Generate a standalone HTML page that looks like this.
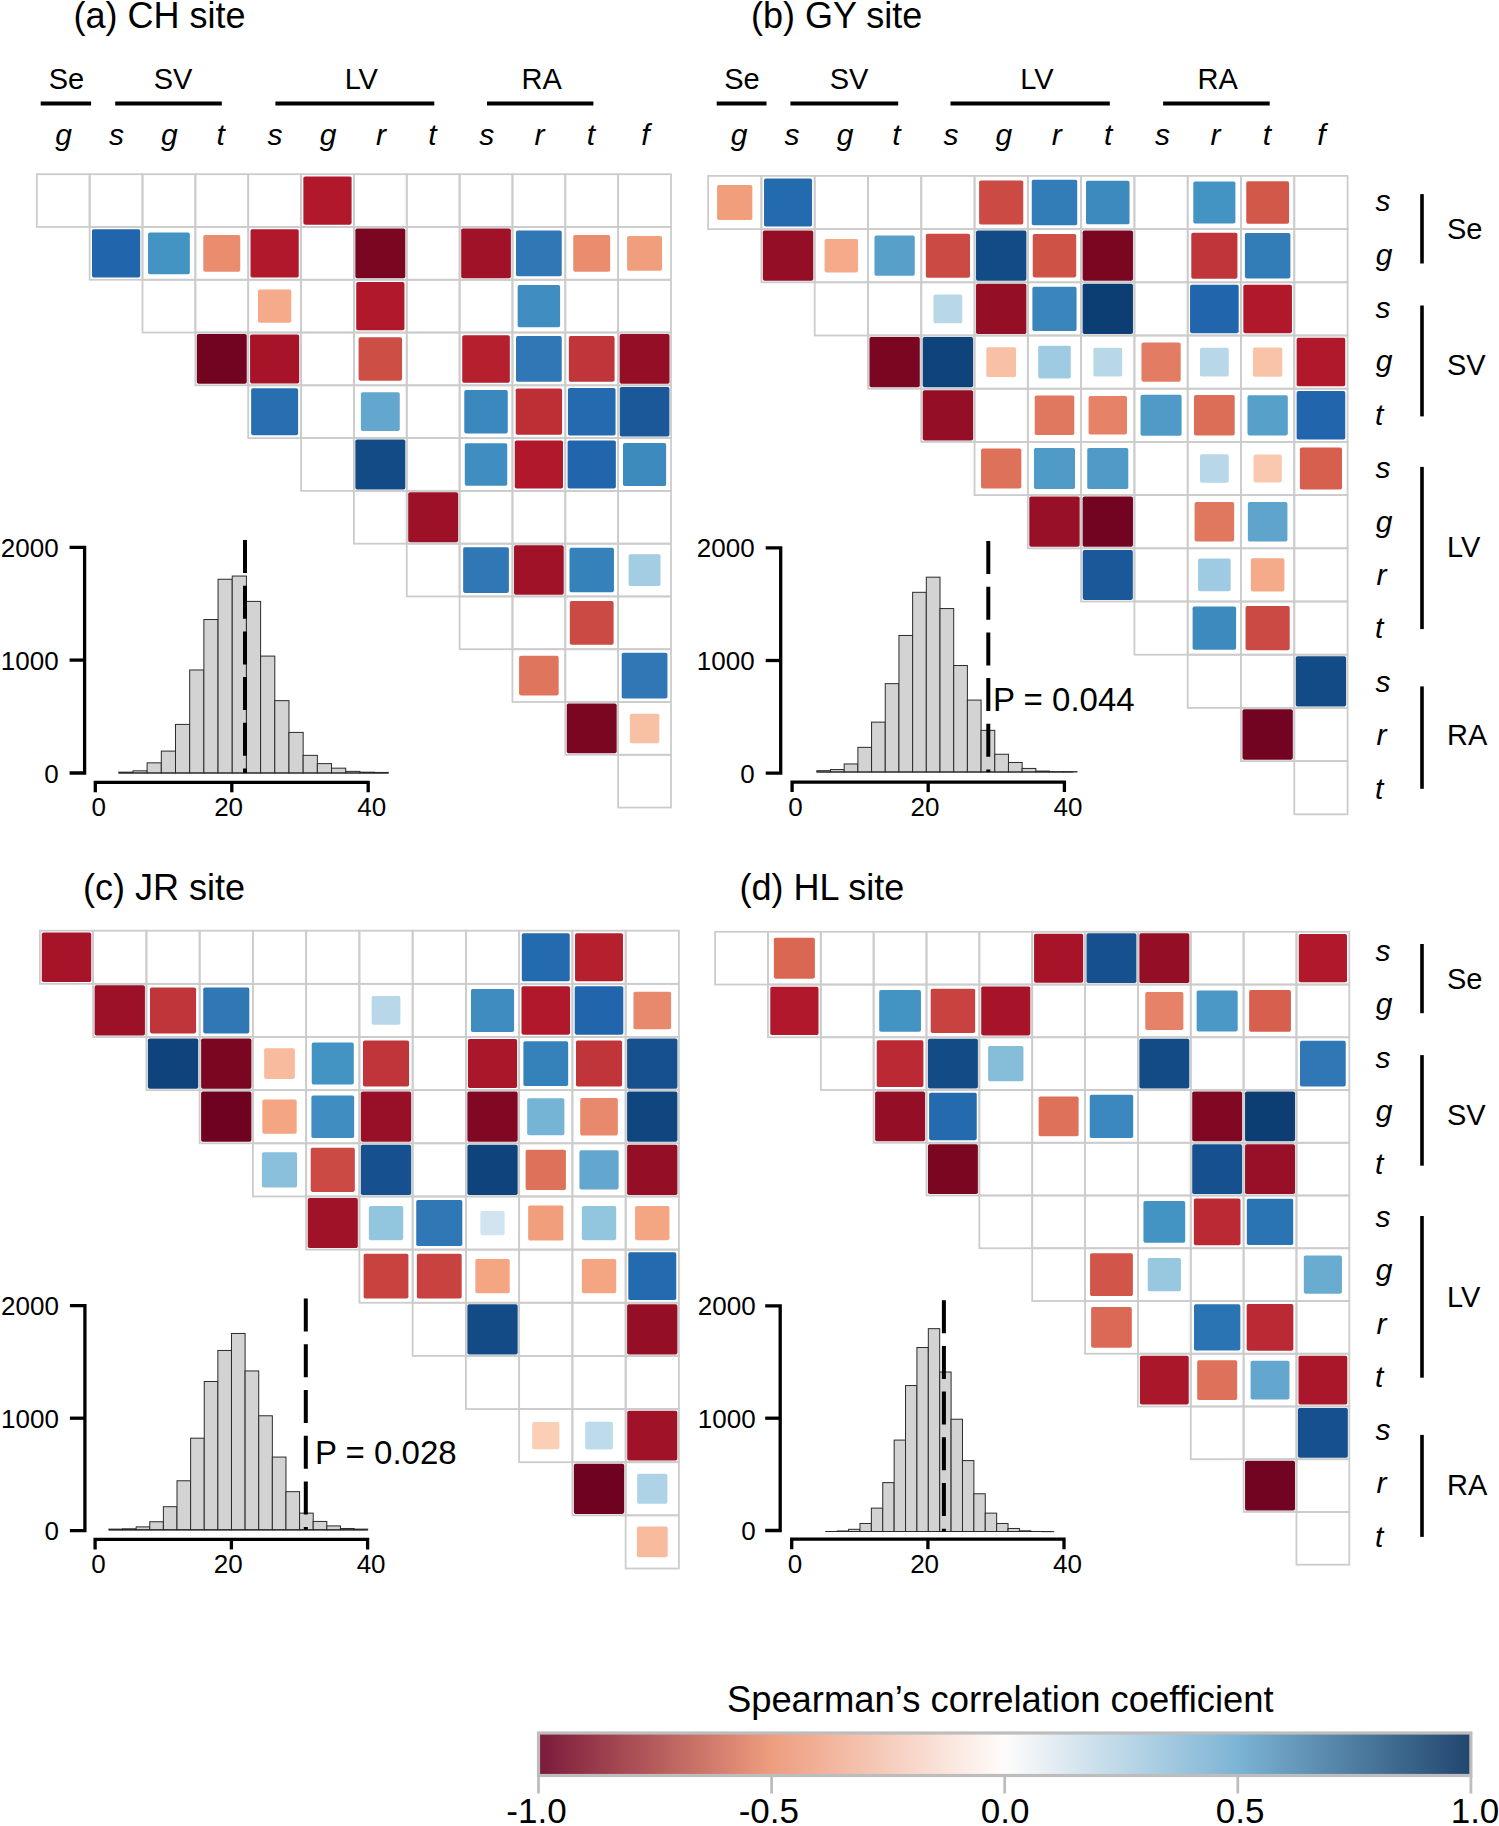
<!DOCTYPE html>
<html><head><meta charset="utf-8"><title>Figure</title>
<style>html,body{margin:0;padding:0;background:#fff;}body{width:1499px;height:1826px;overflow:hidden;font-family:"Liberation Sans",sans-serif;}svg{display:block;}</style>
</head><body>
<svg width="1499" height="1826" viewBox="0 0 1499 1826" font-family='"Liberation Sans", sans-serif'>
<rect width="1499" height="1826" fill="#fff"/>
<text x="73.5" y="28.3" font-size="36" text-anchor="start">(a) CH site</text>
<text x="751.0" y="28.3" font-size="36" text-anchor="start">(b) GY site</text>
<text x="83.0" y="899.8" font-size="36" text-anchor="start">(c) JR site</text>
<text x="739.5" y="899.8" font-size="36" text-anchor="start">(d) HL site</text>
<g stroke="#000" stroke-width="4">
<line x1="40.7" y1="103.4" x2="91.1" y2="103.4"/>
<line x1="115.2" y1="103.4" x2="221.8" y2="103.4"/>
<line x1="275.4" y1="103.4" x2="434.3" y2="103.4"/>
<line x1="487.0" y1="103.4" x2="593.4" y2="103.4"/>
</g>
<text x="66.5" y="88.7" font-size="29" text-anchor="middle">Se</text>
<text x="173.1" y="88.7" font-size="29" text-anchor="middle">SV</text>
<text x="361.3" y="88.7" font-size="29" text-anchor="middle">LV</text>
<text x="541.6" y="88.7" font-size="29" text-anchor="middle">RA</text>
<text x="63.5" y="145.0" font-size="30" text-anchor="middle" font-style="italic">g</text>
<text x="116.4" y="145.0" font-size="30" text-anchor="middle" font-style="italic">s</text>
<text x="169.3" y="145.0" font-size="30" text-anchor="middle" font-style="italic">g</text>
<text x="220.7" y="145.0" font-size="30" text-anchor="middle" font-style="italic">t</text>
<text x="275.1" y="145.0" font-size="30" text-anchor="middle" font-style="italic">s</text>
<text x="328.0" y="145.0" font-size="30" text-anchor="middle" font-style="italic">g</text>
<text x="380.9" y="145.0" font-size="30" text-anchor="middle" font-style="italic">r</text>
<text x="432.3" y="145.0" font-size="30" text-anchor="middle" font-style="italic">t</text>
<text x="486.7" y="145.0" font-size="30" text-anchor="middle" font-style="italic">s</text>
<text x="539.6" y="145.0" font-size="30" text-anchor="middle" font-style="italic">r</text>
<text x="591.0" y="145.0" font-size="30" text-anchor="middle" font-style="italic">t</text>
<text x="645.4" y="145.0" font-size="30" text-anchor="middle" font-style="italic">f</text>
<g stroke="#000" stroke-width="4">
<line x1="716.7" y1="103.4" x2="766.5" y2="103.4"/>
<line x1="790.4" y1="103.4" x2="898.2" y2="103.4"/>
<line x1="950.5" y1="103.4" x2="1109.8" y2="103.4"/>
<line x1="1163.1" y1="103.4" x2="1269.7" y2="103.4"/>
</g>
<text x="742.0" y="88.7" font-size="29" text-anchor="middle">Se</text>
<text x="849.1" y="88.7" font-size="29" text-anchor="middle">SV</text>
<text x="1036.9" y="88.7" font-size="29" text-anchor="middle">LV</text>
<text x="1217.6" y="88.7" font-size="29" text-anchor="middle">RA</text>
<text x="739.2" y="145.0" font-size="30" text-anchor="middle" font-style="italic">g</text>
<text x="792.1" y="145.0" font-size="30" text-anchor="middle" font-style="italic">s</text>
<text x="845.0" y="145.0" font-size="30" text-anchor="middle" font-style="italic">g</text>
<text x="896.5" y="145.0" font-size="30" text-anchor="middle" font-style="italic">t</text>
<text x="950.9" y="145.0" font-size="30" text-anchor="middle" font-style="italic">s</text>
<text x="1003.8" y="145.0" font-size="30" text-anchor="middle" font-style="italic">g</text>
<text x="1056.7" y="145.0" font-size="30" text-anchor="middle" font-style="italic">r</text>
<text x="1108.1" y="145.0" font-size="30" text-anchor="middle" font-style="italic">t</text>
<text x="1162.6" y="145.0" font-size="30" text-anchor="middle" font-style="italic">s</text>
<text x="1215.5" y="145.0" font-size="30" text-anchor="middle" font-style="italic">r</text>
<text x="1266.9" y="145.0" font-size="30" text-anchor="middle" font-style="italic">t</text>
<text x="1321.3" y="145.0" font-size="30" text-anchor="middle" font-style="italic">f</text>
<g fill="none" stroke="#cccccc" stroke-width="1.8"><rect x="36.80" y="174.20" width="52.85" height="52.78"/><rect x="89.65" y="174.20" width="52.85" height="52.78"/><rect x="142.50" y="174.20" width="52.85" height="52.78"/><rect x="195.35" y="174.20" width="52.85" height="52.78"/><rect x="248.20" y="174.20" width="52.85" height="52.78"/><rect x="301.05" y="174.20" width="52.85" height="52.78"/><rect x="353.90" y="174.20" width="52.85" height="52.78"/><rect x="406.75" y="174.20" width="52.85" height="52.78"/><rect x="459.60" y="174.20" width="52.85" height="52.78"/><rect x="512.45" y="174.20" width="52.85" height="52.78"/><rect x="565.30" y="174.20" width="52.85" height="52.78"/><rect x="618.15" y="174.20" width="52.85" height="52.78"/><rect x="89.65" y="226.98" width="52.85" height="52.78"/><rect x="142.50" y="226.98" width="52.85" height="52.78"/><rect x="195.35" y="226.98" width="52.85" height="52.78"/><rect x="248.20" y="226.98" width="52.85" height="52.78"/><rect x="301.05" y="226.98" width="52.85" height="52.78"/><rect x="353.90" y="226.98" width="52.85" height="52.78"/><rect x="406.75" y="226.98" width="52.85" height="52.78"/><rect x="459.60" y="226.98" width="52.85" height="52.78"/><rect x="512.45" y="226.98" width="52.85" height="52.78"/><rect x="565.30" y="226.98" width="52.85" height="52.78"/><rect x="618.15" y="226.98" width="52.85" height="52.78"/><rect x="142.50" y="279.76" width="52.85" height="52.78"/><rect x="195.35" y="279.76" width="52.85" height="52.78"/><rect x="248.20" y="279.76" width="52.85" height="52.78"/><rect x="301.05" y="279.76" width="52.85" height="52.78"/><rect x="353.90" y="279.76" width="52.85" height="52.78"/><rect x="406.75" y="279.76" width="52.85" height="52.78"/><rect x="459.60" y="279.76" width="52.85" height="52.78"/><rect x="512.45" y="279.76" width="52.85" height="52.78"/><rect x="565.30" y="279.76" width="52.85" height="52.78"/><rect x="618.15" y="279.76" width="52.85" height="52.78"/><rect x="195.35" y="332.54" width="52.85" height="52.78"/><rect x="248.20" y="332.54" width="52.85" height="52.78"/><rect x="301.05" y="332.54" width="52.85" height="52.78"/><rect x="353.90" y="332.54" width="52.85" height="52.78"/><rect x="406.75" y="332.54" width="52.85" height="52.78"/><rect x="459.60" y="332.54" width="52.85" height="52.78"/><rect x="512.45" y="332.54" width="52.85" height="52.78"/><rect x="565.30" y="332.54" width="52.85" height="52.78"/><rect x="618.15" y="332.54" width="52.85" height="52.78"/><rect x="248.20" y="385.32" width="52.85" height="52.78"/><rect x="301.05" y="385.32" width="52.85" height="52.78"/><rect x="353.90" y="385.32" width="52.85" height="52.78"/><rect x="406.75" y="385.32" width="52.85" height="52.78"/><rect x="459.60" y="385.32" width="52.85" height="52.78"/><rect x="512.45" y="385.32" width="52.85" height="52.78"/><rect x="565.30" y="385.32" width="52.85" height="52.78"/><rect x="618.15" y="385.32" width="52.85" height="52.78"/><rect x="301.05" y="438.10" width="52.85" height="52.78"/><rect x="353.90" y="438.10" width="52.85" height="52.78"/><rect x="406.75" y="438.10" width="52.85" height="52.78"/><rect x="459.60" y="438.10" width="52.85" height="52.78"/><rect x="512.45" y="438.10" width="52.85" height="52.78"/><rect x="565.30" y="438.10" width="52.85" height="52.78"/><rect x="618.15" y="438.10" width="52.85" height="52.78"/><rect x="353.90" y="490.88" width="52.85" height="52.78"/><rect x="406.75" y="490.88" width="52.85" height="52.78"/><rect x="459.60" y="490.88" width="52.85" height="52.78"/><rect x="512.45" y="490.88" width="52.85" height="52.78"/><rect x="565.30" y="490.88" width="52.85" height="52.78"/><rect x="618.15" y="490.88" width="52.85" height="52.78"/><rect x="406.75" y="543.66" width="52.85" height="52.78"/><rect x="459.60" y="543.66" width="52.85" height="52.78"/><rect x="512.45" y="543.66" width="52.85" height="52.78"/><rect x="565.30" y="543.66" width="52.85" height="52.78"/><rect x="618.15" y="543.66" width="52.85" height="52.78"/><rect x="459.60" y="596.44" width="52.85" height="52.78"/><rect x="512.45" y="596.44" width="52.85" height="52.78"/><rect x="565.30" y="596.44" width="52.85" height="52.78"/><rect x="618.15" y="596.44" width="52.85" height="52.78"/><rect x="512.45" y="649.22" width="52.85" height="52.78"/><rect x="565.30" y="649.22" width="52.85" height="52.78"/><rect x="618.15" y="649.22" width="52.85" height="52.78"/><rect x="565.30" y="702.00" width="52.85" height="52.78"/><rect x="618.15" y="702.00" width="52.85" height="52.78"/><rect x="618.15" y="754.78" width="52.85" height="52.78"/></g>
<g><rect x="303.37" y="176.51" width="48.22" height="48.15" rx="1.8" fill="#b2182b"/><rect x="91.97" y="229.29" width="48.22" height="48.15" rx="1.8" fill="#2166ac"/><rect x="148.05" y="232.52" width="41.76" height="41.70" rx="1.8" fill="#4393c3"/><rect x="203.30" y="234.92" width="36.96" height="36.91" rx="1.8" fill="#ea8d6f"/><rect x="250.52" y="229.29" width="48.22" height="48.15" rx="1.8" fill="#b2182b"/><rect x="355.35" y="228.43" width="49.94" height="49.88" rx="1.8" fill="#7a0622"/><rect x="461.18" y="228.55" width="49.70" height="49.63" rx="1.8" fill="#9f1228"/><rect x="516.00" y="230.53" width="45.74" height="45.68" rx="1.8" fill="#2f78b5"/><rect x="573.25" y="234.92" width="36.96" height="36.91" rx="1.8" fill="#ea8d6f"/><rect x="627.11" y="235.93" width="34.94" height="34.89" rx="1.8" fill="#f19e7d"/><rect x="258.01" y="289.56" width="33.23" height="33.19" rx="1.8" fill="#f5aa89"/><rect x="356.22" y="282.07" width="48.22" height="48.15" rx="1.8" fill="#b2182b"/><rect x="517.65" y="284.95" width="42.45" height="42.39" rx="1.8" fill="#408ec1"/><rect x="196.80" y="333.99" width="49.94" height="49.88" rx="1.8" fill="#720421"/><rect x="250.07" y="334.41" width="49.11" height="49.05" rx="1.8" fill="#a71429"/><rect x="358.59" y="337.23" width="43.46" height="43.40" rx="1.8" fill="#cd4e44"/><rect x="462.22" y="335.16" width="47.61" height="47.55" rx="1.8" fill="#b61f2e"/><rect x="516.00" y="336.09" width="45.74" height="45.68" rx="1.8" fill="#2f78b5"/><rect x="568.85" y="336.09" width="45.74" height="45.68" rx="1.8" fill="#c03539"/><rect x="619.60" y="333.99" width="49.94" height="49.88" rx="1.8" fill="#940e26"/><rect x="251.13" y="388.24" width="47.00" height="46.93" rx="1.8" fill="#286fb1"/><rect x="360.89" y="392.30" width="38.87" height="38.82" rx="1.8" fill="#63a7ce"/><rect x="464.29" y="390.01" width="43.46" height="43.40" rx="1.8" fill="#3a88bd"/><rect x="515.69" y="388.55" width="46.37" height="46.31" rx="1.8" fill="#bd2e35"/><rect x="567.92" y="387.94" width="47.61" height="47.55" rx="1.8" fill="#246aae"/><rect x="619.73" y="386.89" width="49.70" height="49.63" rx="1.8" fill="#1a5899"/><rect x="355.35" y="439.55" width="49.94" height="49.88" rx="1.8" fill="#134b86"/><rect x="464.80" y="443.29" width="42.45" height="42.39" rx="1.8" fill="#408ec1"/><rect x="514.77" y="440.41" width="48.22" height="48.15" rx="1.8" fill="#b2182b"/><rect x="567.62" y="440.41" width="48.22" height="48.15" rx="1.8" fill="#2166ac"/><rect x="623.01" y="442.96" width="43.13" height="43.07" rx="1.8" fill="#3c8abe"/><rect x="408.20" y="492.33" width="49.94" height="49.88" rx="1.8" fill="#9c1127"/><rect x="463.15" y="547.21" width="45.74" height="45.68" rx="1.8" fill="#2f78b5"/><rect x="514.03" y="545.23" width="49.70" height="49.63" rx="1.8" fill="#9f1228"/><rect x="569.50" y="547.85" width="44.45" height="44.39" rx="1.8" fill="#3581ba"/><rect x="628.63" y="554.13" width="31.89" height="31.85" rx="1.8" fill="#a2cde2"/><rect x="569.83" y="600.96" width="43.79" height="43.74" rx="1.8" fill="#cb4a43"/><rect x="519.07" y="655.83" width="39.61" height="39.56" rx="1.8" fill="#df755d"/><rect x="621.70" y="652.77" width="45.74" height="45.68" rx="1.8" fill="#2f78b5"/><rect x="566.75" y="703.45" width="49.94" height="49.88" rx="1.8" fill="#7a0622"/><rect x="629.81" y="713.65" width="29.53" height="29.49" rx="1.8" fill="#f8c0a4"/></g>
<g fill="none" stroke="#cccccc" stroke-width="1.8"><rect x="708.10" y="175.90" width="53.29" height="53.20"/><rect x="761.39" y="175.90" width="53.29" height="53.20"/><rect x="814.68" y="175.90" width="53.29" height="53.20"/><rect x="867.97" y="175.90" width="53.29" height="53.20"/><rect x="921.26" y="175.90" width="53.29" height="53.20"/><rect x="974.55" y="175.90" width="53.29" height="53.20"/><rect x="1027.84" y="175.90" width="53.29" height="53.20"/><rect x="1081.13" y="175.90" width="53.29" height="53.20"/><rect x="1134.42" y="175.90" width="53.29" height="53.20"/><rect x="1187.71" y="175.90" width="53.29" height="53.20"/><rect x="1241.00" y="175.90" width="53.29" height="53.20"/><rect x="1294.29" y="175.90" width="53.29" height="53.20"/><rect x="761.39" y="229.10" width="53.29" height="53.20"/><rect x="814.68" y="229.10" width="53.29" height="53.20"/><rect x="867.97" y="229.10" width="53.29" height="53.20"/><rect x="921.26" y="229.10" width="53.29" height="53.20"/><rect x="974.55" y="229.10" width="53.29" height="53.20"/><rect x="1027.84" y="229.10" width="53.29" height="53.20"/><rect x="1081.13" y="229.10" width="53.29" height="53.20"/><rect x="1134.42" y="229.10" width="53.29" height="53.20"/><rect x="1187.71" y="229.10" width="53.29" height="53.20"/><rect x="1241.00" y="229.10" width="53.29" height="53.20"/><rect x="1294.29" y="229.10" width="53.29" height="53.20"/><rect x="814.68" y="282.30" width="53.29" height="53.20"/><rect x="867.97" y="282.30" width="53.29" height="53.20"/><rect x="921.26" y="282.30" width="53.29" height="53.20"/><rect x="974.55" y="282.30" width="53.29" height="53.20"/><rect x="1027.84" y="282.30" width="53.29" height="53.20"/><rect x="1081.13" y="282.30" width="53.29" height="53.20"/><rect x="1134.42" y="282.30" width="53.29" height="53.20"/><rect x="1187.71" y="282.30" width="53.29" height="53.20"/><rect x="1241.00" y="282.30" width="53.29" height="53.20"/><rect x="1294.29" y="282.30" width="53.29" height="53.20"/><rect x="867.97" y="335.50" width="53.29" height="53.20"/><rect x="921.26" y="335.50" width="53.29" height="53.20"/><rect x="974.55" y="335.50" width="53.29" height="53.20"/><rect x="1027.84" y="335.50" width="53.29" height="53.20"/><rect x="1081.13" y="335.50" width="53.29" height="53.20"/><rect x="1134.42" y="335.50" width="53.29" height="53.20"/><rect x="1187.71" y="335.50" width="53.29" height="53.20"/><rect x="1241.00" y="335.50" width="53.29" height="53.20"/><rect x="1294.29" y="335.50" width="53.29" height="53.20"/><rect x="921.26" y="388.70" width="53.29" height="53.20"/><rect x="974.55" y="388.70" width="53.29" height="53.20"/><rect x="1027.84" y="388.70" width="53.29" height="53.20"/><rect x="1081.13" y="388.70" width="53.29" height="53.20"/><rect x="1134.42" y="388.70" width="53.29" height="53.20"/><rect x="1187.71" y="388.70" width="53.29" height="53.20"/><rect x="1241.00" y="388.70" width="53.29" height="53.20"/><rect x="1294.29" y="388.70" width="53.29" height="53.20"/><rect x="974.55" y="441.90" width="53.29" height="53.20"/><rect x="1027.84" y="441.90" width="53.29" height="53.20"/><rect x="1081.13" y="441.90" width="53.29" height="53.20"/><rect x="1134.42" y="441.90" width="53.29" height="53.20"/><rect x="1187.71" y="441.90" width="53.29" height="53.20"/><rect x="1241.00" y="441.90" width="53.29" height="53.20"/><rect x="1294.29" y="441.90" width="53.29" height="53.20"/><rect x="1027.84" y="495.10" width="53.29" height="53.20"/><rect x="1081.13" y="495.10" width="53.29" height="53.20"/><rect x="1134.42" y="495.10" width="53.29" height="53.20"/><rect x="1187.71" y="495.10" width="53.29" height="53.20"/><rect x="1241.00" y="495.10" width="53.29" height="53.20"/><rect x="1294.29" y="495.10" width="53.29" height="53.20"/><rect x="1081.13" y="548.30" width="53.29" height="53.20"/><rect x="1134.42" y="548.30" width="53.29" height="53.20"/><rect x="1187.71" y="548.30" width="53.29" height="53.20"/><rect x="1241.00" y="548.30" width="53.29" height="53.20"/><rect x="1294.29" y="548.30" width="53.29" height="53.20"/><rect x="1134.42" y="601.50" width="53.29" height="53.20"/><rect x="1187.71" y="601.50" width="53.29" height="53.20"/><rect x="1241.00" y="601.50" width="53.29" height="53.20"/><rect x="1294.29" y="601.50" width="53.29" height="53.20"/><rect x="1187.71" y="654.70" width="53.29" height="53.20"/><rect x="1241.00" y="654.70" width="53.29" height="53.20"/><rect x="1294.29" y="654.70" width="53.29" height="53.20"/><rect x="1241.00" y="707.90" width="53.29" height="53.20"/><rect x="1294.29" y="707.90" width="53.29" height="53.20"/><rect x="1294.29" y="761.10" width="53.29" height="53.20"/></g>
<g><rect x="717.13" y="184.92" width="35.23" height="35.17" rx="1.8" fill="#f19e7d"/><rect x="764.03" y="178.54" width="48.01" height="47.92" rx="1.8" fill="#246aae"/><rect x="979.12" y="180.46" width="44.16" height="44.08" rx="1.8" fill="#cb4a43"/><rect x="1031.75" y="179.80" width="45.48" height="45.40" rx="1.8" fill="#327cb8"/><rect x="1086.03" y="180.79" width="43.48" height="43.41" rx="1.8" fill="#3c8abe"/><rect x="1193.30" y="181.48" width="42.10" height="42.03" rx="1.8" fill="#4393c3"/><rect x="1246.25" y="181.14" width="42.80" height="42.73" rx="1.8" fill="#d2594a"/><rect x="762.86" y="230.56" width="50.36" height="50.27" rx="1.8" fill="#940e26"/><rect x="824.57" y="238.97" width="33.51" height="33.45" rx="1.8" fill="#f5aa89"/><rect x="874.46" y="235.58" width="40.31" height="40.24" rx="1.8" fill="#57a0ca"/><rect x="925.83" y="233.66" width="44.16" height="44.08" rx="1.8" fill="#cb4a43"/><rect x="976.02" y="230.56" width="50.36" height="50.27" rx="1.8" fill="#134b86"/><rect x="1032.74" y="233.99" width="43.48" height="43.41" rx="1.8" fill="#cf5246"/><rect x="1082.60" y="230.56" width="50.36" height="50.27" rx="1.8" fill="#7a0622"/><rect x="1191.29" y="232.68" width="46.12" height="46.04" rx="1.8" fill="#c03539"/><rect x="1244.91" y="233.00" width="45.48" height="45.40" rx="1.8" fill="#327cb8"/><rect x="933.52" y="294.54" width="28.76" height="28.71" rx="1.8" fill="#b8d8e9"/><rect x="976.02" y="283.76" width="50.36" height="50.27" rx="1.8" fill="#940e26"/><rect x="1032.41" y="286.86" width="44.16" height="44.08" rx="1.8" fill="#3985bc"/><rect x="1082.60" y="283.76" width="50.36" height="50.27" rx="1.8" fill="#0c3e74"/><rect x="1190.05" y="284.63" width="48.62" height="48.54" rx="1.8" fill="#2166ac"/><rect x="1243.34" y="284.63" width="48.62" height="48.54" rx="1.8" fill="#b2182b"/><rect x="869.44" y="336.96" width="50.36" height="50.27" rx="1.8" fill="#7a0622"/><rect x="922.73" y="336.96" width="50.36" height="50.27" rx="1.8" fill="#0f437b"/><rect x="986.31" y="347.24" width="29.77" height="29.72" rx="1.8" fill="#f8c0a4"/><rect x="1038.18" y="345.82" width="32.61" height="32.56" rx="1.8" fill="#9fcbe2"/><rect x="1093.39" y="347.74" width="28.76" height="28.71" rx="1.8" fill="#b8d8e9"/><rect x="1141.47" y="342.53" width="39.20" height="39.13" rx="1.8" fill="#e27c62"/><rect x="1199.97" y="347.74" width="28.76" height="28.71" rx="1.8" fill="#b8d8e9"/><rect x="1253.01" y="347.49" width="29.27" height="29.22" rx="1.8" fill="#f9c3a8"/><rect x="1296.63" y="337.83" width="48.62" height="48.54" rx="1.8" fill="#b2182b"/><rect x="922.73" y="390.16" width="50.36" height="50.27" rx="1.8" fill="#940e26"/><rect x="1034.70" y="395.55" width="39.57" height="39.50" rx="1.8" fill="#e07860"/><rect x="1088.56" y="396.11" width="38.44" height="38.37" rx="1.8" fill="#e58268"/><rect x="1140.55" y="394.82" width="41.04" height="40.97" rx="1.8" fill="#4f9ac7"/><rect x="1194.02" y="395.00" width="40.68" height="40.61" rx="1.8" fill="#dc6e58"/><rect x="1247.49" y="395.18" width="40.31" height="40.24" rx="1.8" fill="#57a0ca"/><rect x="1296.63" y="391.03" width="48.62" height="48.54" rx="1.8" fill="#2166ac"/><rect x="981.04" y="448.38" width="40.31" height="40.24" rx="1.8" fill="#de715a"/><rect x="1033.97" y="448.02" width="41.04" height="40.97" rx="1.8" fill="#4f9ac7"/><rect x="1087.26" y="448.02" width="41.04" height="40.97" rx="1.8" fill="#4f9ac7"/><rect x="1199.97" y="454.14" width="28.76" height="28.71" rx="1.8" fill="#b8d8e9"/><rect x="1253.52" y="454.40" width="28.24" height="28.20" rx="1.8" fill="#fac8af"/><rect x="1299.88" y="447.48" width="42.10" height="42.03" rx="1.8" fill="#d6604d"/><rect x="1029.31" y="496.56" width="50.36" height="50.27" rx="1.8" fill="#981027"/><rect x="1082.60" y="496.56" width="50.36" height="50.27" rx="1.8" fill="#720421"/><rect x="1194.57" y="501.95" width="39.57" height="39.50" rx="1.8" fill="#e07860"/><rect x="1247.86" y="501.95" width="39.57" height="39.50" rx="1.8" fill="#5fa4cc"/><rect x="1082.72" y="549.89" width="50.11" height="50.03" rx="1.8" fill="#1a5899"/><rect x="1198.05" y="558.62" width="32.61" height="32.56" rx="1.8" fill="#9fcbe2"/><rect x="1250.89" y="558.17" width="33.51" height="33.45" rx="1.8" fill="#f5aa89"/><rect x="1192.61" y="606.39" width="43.48" height="43.41" rx="1.8" fill="#3c8abe"/><rect x="1245.57" y="606.06" width="44.16" height="44.08" rx="1.8" fill="#cb4a43"/><rect x="1295.76" y="656.16" width="50.36" height="50.27" rx="1.8" fill="#134b86"/><rect x="1242.47" y="709.36" width="50.36" height="50.27" rx="1.8" fill="#720421"/></g>
<g fill="none" stroke="#cccccc" stroke-width="1.8"><rect x="39.90" y="930.70" width="53.25" height="53.15"/><rect x="93.15" y="930.70" width="53.25" height="53.15"/><rect x="146.40" y="930.70" width="53.25" height="53.15"/><rect x="199.65" y="930.70" width="53.25" height="53.15"/><rect x="252.90" y="930.70" width="53.25" height="53.15"/><rect x="306.15" y="930.70" width="53.25" height="53.15"/><rect x="359.40" y="930.70" width="53.25" height="53.15"/><rect x="412.65" y="930.70" width="53.25" height="53.15"/><rect x="465.90" y="930.70" width="53.25" height="53.15"/><rect x="519.15" y="930.70" width="53.25" height="53.15"/><rect x="572.40" y="930.70" width="53.25" height="53.15"/><rect x="625.65" y="930.70" width="53.25" height="53.15"/><rect x="93.15" y="983.85" width="53.25" height="53.15"/><rect x="146.40" y="983.85" width="53.25" height="53.15"/><rect x="199.65" y="983.85" width="53.25" height="53.15"/><rect x="252.90" y="983.85" width="53.25" height="53.15"/><rect x="306.15" y="983.85" width="53.25" height="53.15"/><rect x="359.40" y="983.85" width="53.25" height="53.15"/><rect x="412.65" y="983.85" width="53.25" height="53.15"/><rect x="465.90" y="983.85" width="53.25" height="53.15"/><rect x="519.15" y="983.85" width="53.25" height="53.15"/><rect x="572.40" y="983.85" width="53.25" height="53.15"/><rect x="625.65" y="983.85" width="53.25" height="53.15"/><rect x="146.40" y="1037.00" width="53.25" height="53.15"/><rect x="199.65" y="1037.00" width="53.25" height="53.15"/><rect x="252.90" y="1037.00" width="53.25" height="53.15"/><rect x="306.15" y="1037.00" width="53.25" height="53.15"/><rect x="359.40" y="1037.00" width="53.25" height="53.15"/><rect x="412.65" y="1037.00" width="53.25" height="53.15"/><rect x="465.90" y="1037.00" width="53.25" height="53.15"/><rect x="519.15" y="1037.00" width="53.25" height="53.15"/><rect x="572.40" y="1037.00" width="53.25" height="53.15"/><rect x="625.65" y="1037.00" width="53.25" height="53.15"/><rect x="199.65" y="1090.15" width="53.25" height="53.15"/><rect x="252.90" y="1090.15" width="53.25" height="53.15"/><rect x="306.15" y="1090.15" width="53.25" height="53.15"/><rect x="359.40" y="1090.15" width="53.25" height="53.15"/><rect x="412.65" y="1090.15" width="53.25" height="53.15"/><rect x="465.90" y="1090.15" width="53.25" height="53.15"/><rect x="519.15" y="1090.15" width="53.25" height="53.15"/><rect x="572.40" y="1090.15" width="53.25" height="53.15"/><rect x="625.65" y="1090.15" width="53.25" height="53.15"/><rect x="252.90" y="1143.30" width="53.25" height="53.15"/><rect x="306.15" y="1143.30" width="53.25" height="53.15"/><rect x="359.40" y="1143.30" width="53.25" height="53.15"/><rect x="412.65" y="1143.30" width="53.25" height="53.15"/><rect x="465.90" y="1143.30" width="53.25" height="53.15"/><rect x="519.15" y="1143.30" width="53.25" height="53.15"/><rect x="572.40" y="1143.30" width="53.25" height="53.15"/><rect x="625.65" y="1143.30" width="53.25" height="53.15"/><rect x="306.15" y="1196.45" width="53.25" height="53.15"/><rect x="359.40" y="1196.45" width="53.25" height="53.15"/><rect x="412.65" y="1196.45" width="53.25" height="53.15"/><rect x="465.90" y="1196.45" width="53.25" height="53.15"/><rect x="519.15" y="1196.45" width="53.25" height="53.15"/><rect x="572.40" y="1196.45" width="53.25" height="53.15"/><rect x="625.65" y="1196.45" width="53.25" height="53.15"/><rect x="359.40" y="1249.60" width="53.25" height="53.15"/><rect x="412.65" y="1249.60" width="53.25" height="53.15"/><rect x="465.90" y="1249.60" width="53.25" height="53.15"/><rect x="519.15" y="1249.60" width="53.25" height="53.15"/><rect x="572.40" y="1249.60" width="53.25" height="53.15"/><rect x="625.65" y="1249.60" width="53.25" height="53.15"/><rect x="412.65" y="1302.75" width="53.25" height="53.15"/><rect x="465.90" y="1302.75" width="53.25" height="53.15"/><rect x="519.15" y="1302.75" width="53.25" height="53.15"/><rect x="572.40" y="1302.75" width="53.25" height="53.15"/><rect x="625.65" y="1302.75" width="53.25" height="53.15"/><rect x="465.90" y="1355.90" width="53.25" height="53.15"/><rect x="519.15" y="1355.90" width="53.25" height="53.15"/><rect x="572.40" y="1355.90" width="53.25" height="53.15"/><rect x="625.65" y="1355.90" width="53.25" height="53.15"/><rect x="519.15" y="1409.05" width="53.25" height="53.15"/><rect x="572.40" y="1409.05" width="53.25" height="53.15"/><rect x="625.65" y="1409.05" width="53.25" height="53.15"/><rect x="572.40" y="1462.20" width="53.25" height="53.15"/><rect x="625.65" y="1462.20" width="53.25" height="53.15"/><rect x="625.65" y="1515.35" width="53.25" height="53.15"/></g>
<g><rect x="41.78" y="932.58" width="49.48" height="49.39" rx="1.8" fill="#a71429"/><rect x="521.79" y="933.34" width="47.97" height="47.88" rx="1.8" fill="#246aae"/><rect x="575.04" y="933.34" width="47.97" height="47.88" rx="1.8" fill="#b61f2e"/><rect x="94.61" y="985.31" width="50.32" height="50.23" rx="1.8" fill="#9c1127"/><rect x="149.98" y="987.42" width="46.09" height="46.00" rx="1.8" fill="#c03539"/><rect x="203.23" y="987.42" width="46.09" height="46.00" rx="1.8" fill="#2f78b5"/><rect x="371.65" y="996.08" width="28.74" height="28.69" rx="1.8" fill="#b8d8e9"/><rect x="470.97" y="988.91" width="43.11" height="43.03" rx="1.8" fill="#3e8cc0"/><rect x="521.48" y="986.18" width="48.58" height="48.49" rx="1.8" fill="#b2182b"/><rect x="574.73" y="986.18" width="48.58" height="48.49" rx="1.8" fill="#2166ac"/><rect x="633.46" y="991.65" width="37.63" height="37.56" rx="1.8" fill="#e8896d"/><rect x="147.86" y="1038.46" width="50.32" height="50.23" rx="1.8" fill="#0f437b"/><rect x="201.11" y="1038.46" width="50.32" height="50.23" rx="1.8" fill="#7a0622"/><rect x="264.16" y="1048.24" width="30.73" height="30.67" rx="1.8" fill="#f8bb9e"/><rect x="311.74" y="1042.58" width="42.07" height="41.99" rx="1.8" fill="#4393c3"/><rect x="362.98" y="1040.57" width="46.09" height="46.00" rx="1.8" fill="#c03539"/><rect x="467.93" y="1039.03" width="49.18" height="49.09" rx="1.8" fill="#aa162a"/><rect x="523.38" y="1041.22" width="44.79" height="44.71" rx="1.8" fill="#3581ba"/><rect x="575.98" y="1040.57" width="46.09" height="46.00" rx="1.8" fill="#c03539"/><rect x="627.11" y="1038.46" width="50.32" height="50.23" rx="1.8" fill="#16508e"/><rect x="201.11" y="1091.61" width="50.32" height="50.23" rx="1.8" fill="#6e0220"/><rect x="262.35" y="1099.58" width="34.35" height="34.29" rx="1.8" fill="#f4a582"/><rect x="311.39" y="1095.38" width="42.77" height="42.69" rx="1.8" fill="#408ec1"/><rect x="360.86" y="1091.61" width="50.32" height="50.23" rx="1.8" fill="#981027"/><rect x="467.36" y="1091.61" width="50.32" height="50.23" rx="1.8" fill="#810823"/><rect x="527.16" y="1098.14" width="37.24" height="37.17" rx="1.8" fill="#76b4d5"/><rect x="580.21" y="1097.95" width="37.63" height="37.56" rx="1.8" fill="#e8896d"/><rect x="627.11" y="1091.61" width="50.32" height="50.23" rx="1.8" fill="#10467f"/><rect x="261.92" y="1152.31" width="35.20" height="35.13" rx="1.8" fill="#8ac0db"/><rect x="310.71" y="1147.85" width="44.13" height="44.04" rx="1.8" fill="#cb4a43"/><rect x="360.86" y="1144.76" width="50.32" height="50.23" rx="1.8" fill="#16508e"/><rect x="467.36" y="1144.76" width="50.32" height="50.23" rx="1.8" fill="#0f437b"/><rect x="525.63" y="1149.77" width="40.28" height="40.21" rx="1.8" fill="#de715a"/><rect x="579.44" y="1150.33" width="39.17" height="39.09" rx="1.8" fill="#63a7ce"/><rect x="627.11" y="1144.76" width="50.32" height="50.23" rx="1.8" fill="#940e26"/><rect x="307.74" y="1198.03" width="50.08" height="49.98" rx="1.8" fill="#9f1228"/><rect x="368.85" y="1205.88" width="34.35" height="34.29" rx="1.8" fill="#92c5de"/><rect x="416.23" y="1200.02" width="46.09" height="46.00" rx="1.8" fill="#2f78b5"/><rect x="480.38" y="1210.90" width="24.29" height="24.24" rx="1.8" fill="#d1e5f0"/><rect x="528.17" y="1205.46" width="35.20" height="35.13" rx="1.8" fill="#f19e7d"/><rect x="581.85" y="1205.88" width="34.35" height="34.29" rx="1.8" fill="#92c5de"/><rect x="635.10" y="1205.88" width="34.35" height="34.29" rx="1.8" fill="#f4a582"/><rect x="363.63" y="1253.82" width="44.79" height="44.71" rx="1.8" fill="#c8433f"/><rect x="416.88" y="1253.82" width="44.79" height="44.71" rx="1.8" fill="#c8433f"/><rect x="475.35" y="1259.03" width="34.35" height="34.29" rx="1.8" fill="#f4a582"/><rect x="581.85" y="1259.03" width="34.35" height="34.29" rx="1.8" fill="#f4a582"/><rect x="628.29" y="1252.24" width="47.97" height="47.88" rx="1.8" fill="#246aae"/><rect x="467.36" y="1304.21" width="50.32" height="50.23" rx="1.8" fill="#134b86"/><rect x="627.11" y="1304.21" width="50.32" height="50.23" rx="1.8" fill="#940e26"/><rect x="532.20" y="1422.07" width="27.16" height="27.11" rx="1.8" fill="#fbceb6"/><rect x="585.18" y="1421.80" width="27.70" height="27.64" rx="1.8" fill="#bedbeb"/><rect x="627.24" y="1410.63" width="50.08" height="49.98" rx="1.8" fill="#9f1228"/><rect x="573.86" y="1463.66" width="50.32" height="50.23" rx="1.8" fill="#6e0220"/><rect x="637.15" y="1473.68" width="30.24" height="30.18" rx="1.8" fill="#aed3e6"/><rect x="636.91" y="1526.59" width="30.73" height="30.67" rx="1.8" fill="#f8bb9e"/></g>
<g fill="none" stroke="#cccccc" stroke-width="1.8"><rect x="715.10" y="931.80" width="52.85" height="52.74"/><rect x="767.95" y="931.80" width="52.85" height="52.74"/><rect x="820.80" y="931.80" width="52.85" height="52.74"/><rect x="873.65" y="931.80" width="52.85" height="52.74"/><rect x="926.50" y="931.80" width="52.85" height="52.74"/><rect x="979.35" y="931.80" width="52.85" height="52.74"/><rect x="1032.20" y="931.80" width="52.85" height="52.74"/><rect x="1085.05" y="931.80" width="52.85" height="52.74"/><rect x="1137.90" y="931.80" width="52.85" height="52.74"/><rect x="1190.75" y="931.80" width="52.85" height="52.74"/><rect x="1243.60" y="931.80" width="52.85" height="52.74"/><rect x="1296.45" y="931.80" width="52.85" height="52.74"/><rect x="767.95" y="984.54" width="52.85" height="52.74"/><rect x="820.80" y="984.54" width="52.85" height="52.74"/><rect x="873.65" y="984.54" width="52.85" height="52.74"/><rect x="926.50" y="984.54" width="52.85" height="52.74"/><rect x="979.35" y="984.54" width="52.85" height="52.74"/><rect x="1032.20" y="984.54" width="52.85" height="52.74"/><rect x="1085.05" y="984.54" width="52.85" height="52.74"/><rect x="1137.90" y="984.54" width="52.85" height="52.74"/><rect x="1190.75" y="984.54" width="52.85" height="52.74"/><rect x="1243.60" y="984.54" width="52.85" height="52.74"/><rect x="1296.45" y="984.54" width="52.85" height="52.74"/><rect x="820.80" y="1037.28" width="52.85" height="52.74"/><rect x="873.65" y="1037.28" width="52.85" height="52.74"/><rect x="926.50" y="1037.28" width="52.85" height="52.74"/><rect x="979.35" y="1037.28" width="52.85" height="52.74"/><rect x="1032.20" y="1037.28" width="52.85" height="52.74"/><rect x="1085.05" y="1037.28" width="52.85" height="52.74"/><rect x="1137.90" y="1037.28" width="52.85" height="52.74"/><rect x="1190.75" y="1037.28" width="52.85" height="52.74"/><rect x="1243.60" y="1037.28" width="52.85" height="52.74"/><rect x="1296.45" y="1037.28" width="52.85" height="52.74"/><rect x="873.65" y="1090.02" width="52.85" height="52.74"/><rect x="926.50" y="1090.02" width="52.85" height="52.74"/><rect x="979.35" y="1090.02" width="52.85" height="52.74"/><rect x="1032.20" y="1090.02" width="52.85" height="52.74"/><rect x="1085.05" y="1090.02" width="52.85" height="52.74"/><rect x="1137.90" y="1090.02" width="52.85" height="52.74"/><rect x="1190.75" y="1090.02" width="52.85" height="52.74"/><rect x="1243.60" y="1090.02" width="52.85" height="52.74"/><rect x="1296.45" y="1090.02" width="52.85" height="52.74"/><rect x="926.50" y="1142.76" width="52.85" height="52.74"/><rect x="979.35" y="1142.76" width="52.85" height="52.74"/><rect x="1032.20" y="1142.76" width="52.85" height="52.74"/><rect x="1085.05" y="1142.76" width="52.85" height="52.74"/><rect x="1137.90" y="1142.76" width="52.85" height="52.74"/><rect x="1190.75" y="1142.76" width="52.85" height="52.74"/><rect x="1243.60" y="1142.76" width="52.85" height="52.74"/><rect x="1296.45" y="1142.76" width="52.85" height="52.74"/><rect x="979.35" y="1195.50" width="52.85" height="52.74"/><rect x="1032.20" y="1195.50" width="52.85" height="52.74"/><rect x="1085.05" y="1195.50" width="52.85" height="52.74"/><rect x="1137.90" y="1195.50" width="52.85" height="52.74"/><rect x="1190.75" y="1195.50" width="52.85" height="52.74"/><rect x="1243.60" y="1195.50" width="52.85" height="52.74"/><rect x="1296.45" y="1195.50" width="52.85" height="52.74"/><rect x="1032.20" y="1248.24" width="52.85" height="52.74"/><rect x="1085.05" y="1248.24" width="52.85" height="52.74"/><rect x="1137.90" y="1248.24" width="52.85" height="52.74"/><rect x="1190.75" y="1248.24" width="52.85" height="52.74"/><rect x="1243.60" y="1248.24" width="52.85" height="52.74"/><rect x="1296.45" y="1248.24" width="52.85" height="52.74"/><rect x="1085.05" y="1300.98" width="52.85" height="52.74"/><rect x="1137.90" y="1300.98" width="52.85" height="52.74"/><rect x="1190.75" y="1300.98" width="52.85" height="52.74"/><rect x="1243.60" y="1300.98" width="52.85" height="52.74"/><rect x="1296.45" y="1300.98" width="52.85" height="52.74"/><rect x="1137.90" y="1353.72" width="52.85" height="52.74"/><rect x="1190.75" y="1353.72" width="52.85" height="52.74"/><rect x="1243.60" y="1353.72" width="52.85" height="52.74"/><rect x="1296.45" y="1353.72" width="52.85" height="52.74"/><rect x="1190.75" y="1406.46" width="52.85" height="52.74"/><rect x="1243.60" y="1406.46" width="52.85" height="52.74"/><rect x="1296.45" y="1406.46" width="52.85" height="52.74"/><rect x="1243.60" y="1459.20" width="52.85" height="52.74"/><rect x="1296.45" y="1459.20" width="52.85" height="52.74"/><rect x="1296.45" y="1511.94" width="52.85" height="52.74"/></g>
<g><rect x="773.85" y="937.69" width="41.05" height="40.97" rx="1.8" fill="#d96752"/><rect x="1034.07" y="933.67" width="49.11" height="49.01" rx="1.8" fill="#a71429"/><rect x="1086.50" y="933.25" width="49.94" height="49.84" rx="1.8" fill="#16508e"/><rect x="1139.35" y="933.25" width="49.94" height="49.84" rx="1.8" fill="#940e26"/><rect x="1298.77" y="934.11" width="48.22" height="48.12" rx="1.8" fill="#b2182b"/><rect x="770.27" y="986.85" width="48.22" height="48.12" rx="1.8" fill="#b2182b"/><rect x="879.20" y="990.08" width="41.76" height="41.67" rx="1.8" fill="#4393c3"/><rect x="930.70" y="988.73" width="44.45" height="44.36" rx="1.8" fill="#c8433f"/><rect x="981.22" y="986.41" width="49.11" height="49.01" rx="1.8" fill="#a71429"/><rect x="1145.27" y="991.89" width="38.12" height="38.04" rx="1.8" fill="#e58268"/><rect x="1196.65" y="990.43" width="41.05" height="40.97" rx="1.8" fill="#4b98c6"/><rect x="1249.15" y="990.08" width="41.76" height="41.67" rx="1.8" fill="#d6604d"/><rect x="876.73" y="1040.36" width="46.68" height="46.59" rx="1.8" fill="#bb2a34"/><rect x="927.95" y="1038.73" width="49.94" height="49.84" rx="1.8" fill="#134b86"/><rect x="988.10" y="1046.01" width="35.35" height="35.28" rx="1.8" fill="#86beda"/><rect x="1139.35" y="1038.73" width="49.94" height="49.84" rx="1.8" fill="#134b86"/><rect x="1300.00" y="1040.83" width="45.74" height="45.65" rx="1.8" fill="#2f78b5"/><rect x="875.10" y="1091.47" width="49.94" height="49.84" rx="1.8" fill="#940e26"/><rect x="929.12" y="1092.63" width="47.61" height="47.51" rx="1.8" fill="#246aae"/><rect x="1038.64" y="1096.44" width="39.98" height="39.90" rx="1.8" fill="#de715a"/><rect x="1089.74" y="1094.70" width="43.46" height="43.37" rx="1.8" fill="#3a88bd"/><rect x="1192.20" y="1091.47" width="49.94" height="49.84" rx="1.8" fill="#810823"/><rect x="1245.05" y="1091.47" width="49.94" height="49.84" rx="1.8" fill="#0c3e74"/><rect x="927.95" y="1144.21" width="49.94" height="49.84" rx="1.8" fill="#7a0622"/><rect x="1192.20" y="1144.21" width="49.94" height="49.84" rx="1.8" fill="#16508e"/><rect x="1245.05" y="1144.21" width="49.94" height="49.84" rx="1.8" fill="#981027"/><rect x="1143.45" y="1201.04" width="41.76" height="41.67" rx="1.8" fill="#4393c3"/><rect x="1193.83" y="1198.58" width="46.68" height="46.59" rx="1.8" fill="#bb2a34"/><rect x="1246.84" y="1198.73" width="46.37" height="46.28" rx="1.8" fill="#2b74b3"/><rect x="1090.08" y="1253.26" width="42.79" height="42.70" rx="1.8" fill="#d15548"/><rect x="1147.71" y="1258.03" width="33.23" height="33.16" rx="1.8" fill="#98c8e0"/><rect x="1303.82" y="1255.59" width="38.12" height="38.04" rx="1.8" fill="#6aacd0"/><rect x="1091.13" y="1307.04" width="40.70" height="40.61" rx="1.8" fill="#da6a55"/><rect x="1193.99" y="1304.21" width="46.37" height="46.28" rx="1.8" fill="#2b74b3"/><rect x="1246.68" y="1304.06" width="46.68" height="46.59" rx="1.8" fill="#bb2a34"/><rect x="1139.92" y="1355.73" width="48.81" height="48.71" rx="1.8" fill="#aa162a"/><rect x="1197.19" y="1360.14" width="39.98" height="39.90" rx="1.8" fill="#de715a"/><rect x="1250.59" y="1360.69" width="38.87" height="38.79" rx="1.8" fill="#63a7ce"/><rect x="1298.47" y="1355.73" width="48.81" height="48.71" rx="1.8" fill="#aa162a"/><rect x="1297.90" y="1407.91" width="49.94" height="49.84" rx="1.8" fill="#16508e"/><rect x="1245.05" y="1460.65" width="49.94" height="49.84" rx="1.8" fill="#720421"/></g>
<text x="1383.0" y="211.1" font-size="30" text-anchor="middle" font-style="italic">s</text>
<text x="1384.0" y="264.5" font-size="30" text-anchor="middle" font-style="italic">g</text>
<text x="1383.0" y="317.9" font-size="30" text-anchor="middle" font-style="italic">s</text>
<text x="1384.0" y="371.3" font-size="30" text-anchor="middle" font-style="italic">g</text>
<text x="1379.2" y="424.7" font-size="30" text-anchor="middle" font-style="italic">t</text>
<text x="1383.0" y="478.1" font-size="30" text-anchor="middle" font-style="italic">s</text>
<text x="1384.0" y="531.5" font-size="30" text-anchor="middle" font-style="italic">g</text>
<text x="1381.4" y="584.9" font-size="30" text-anchor="middle" font-style="italic">r</text>
<text x="1379.2" y="638.3" font-size="30" text-anchor="middle" font-style="italic">t</text>
<text x="1383.0" y="691.7" font-size="30" text-anchor="middle" font-style="italic">s</text>
<text x="1381.4" y="745.1" font-size="30" text-anchor="middle" font-style="italic">r</text>
<text x="1379.2" y="798.5" font-size="30" text-anchor="middle" font-style="italic">t</text>
<g stroke="#000" stroke-width="3.6">
<line x1="1422" y1="194.1" x2="1422" y2="263.5"/>
<line x1="1422" y1="305.5" x2="1422" y2="416.4"/>
<line x1="1422" y1="466.9" x2="1422" y2="629.1"/>
<line x1="1422" y1="686.4" x2="1422" y2="788.8"/>
</g>
<text x="1447.0" y="238.6" font-size="29" text-anchor="start">Se</text>
<text x="1447.0" y="374.9" font-size="29" text-anchor="start">SV</text>
<text x="1447.0" y="556.9" font-size="29" text-anchor="start">LV</text>
<text x="1447.0" y="744.9" font-size="29" text-anchor="start">RA</text>
<text x="1383.0" y="961.0" font-size="30" text-anchor="middle" font-style="italic">s</text>
<text x="1384.0" y="1014.2" font-size="30" text-anchor="middle" font-style="italic">g</text>
<text x="1383.0" y="1067.5" font-size="30" text-anchor="middle" font-style="italic">s</text>
<text x="1384.0" y="1120.7" font-size="30" text-anchor="middle" font-style="italic">g</text>
<text x="1379.2" y="1174.0" font-size="30" text-anchor="middle" font-style="italic">t</text>
<text x="1383.0" y="1227.2" font-size="30" text-anchor="middle" font-style="italic">s</text>
<text x="1384.0" y="1280.4" font-size="30" text-anchor="middle" font-style="italic">g</text>
<text x="1381.4" y="1333.7" font-size="30" text-anchor="middle" font-style="italic">r</text>
<text x="1379.2" y="1386.9" font-size="30" text-anchor="middle" font-style="italic">t</text>
<text x="1383.0" y="1440.2" font-size="30" text-anchor="middle" font-style="italic">s</text>
<text x="1381.4" y="1493.4" font-size="30" text-anchor="middle" font-style="italic">r</text>
<text x="1379.2" y="1546.6" font-size="30" text-anchor="middle" font-style="italic">t</text>
<g stroke="#000" stroke-width="3.6">
<line x1="1422" y1="944.0" x2="1422" y2="1013.2"/>
<line x1="1422" y1="1055.1" x2="1422" y2="1165.7"/>
<line x1="1422" y1="1216.0" x2="1422" y2="1377.7"/>
<line x1="1422" y1="1434.9" x2="1422" y2="1536.9"/>
</g>
<text x="1447.0" y="988.5" font-size="29" text-anchor="start">Se</text>
<text x="1447.0" y="1124.8" font-size="29" text-anchor="start">SV</text>
<text x="1447.0" y="1306.8" font-size="29" text-anchor="start">LV</text>
<text x="1447.0" y="1494.8" font-size="29" text-anchor="start">RA</text>
<g fill="#d3d3d3" stroke="#2b2b2b" stroke-width="1"><rect x="118.75" y="772.17" width="14.19" height="0.83"/><rect x="132.94" y="770.83" width="14.19" height="2.17"/><rect x="147.12" y="762.83" width="14.19" height="10.17"/><rect x="161.31" y="751.09" width="14.19" height="21.91"/><rect x="175.49" y="724.40" width="14.19" height="48.60"/><rect x="189.68" y="669.97" width="14.19" height="103.03"/><rect x="203.86" y="619.53" width="14.19" height="153.47"/><rect x="218.05" y="579.24" width="14.19" height="193.76"/><rect x="232.23" y="576.04" width="14.19" height="196.96"/><rect x="246.42" y="601.39" width="14.19" height="171.61"/><rect x="260.60" y="656.09" width="14.19" height="116.91"/><rect x="274.78" y="700.65" width="14.19" height="72.35"/><rect x="288.97" y="732.41" width="14.19" height="40.59"/><rect x="303.15" y="755.36" width="14.19" height="17.64"/><rect x="317.34" y="763.63" width="14.19" height="9.37"/><rect x="331.52" y="768.17" width="14.19" height="4.83"/><rect x="345.71" y="771.37" width="14.19" height="1.63"/><rect x="359.89" y="772.17" width="14.19" height="0.83"/><rect x="374.08" y="772.43" width="14.19" height="0.57"/></g>
<line x1="118.75" y1="773.00" x2="388.26" y2="773.00" stroke="#2b2b2b" stroke-width="1.2"/>
<line x1="245.0" y1="540.0" x2="245.0" y2="773.0" stroke="#000" stroke-width="4" stroke-dasharray="33 12.7"/>
<g stroke="#000" stroke-width="3.3" fill="none">
<polyline points="69.6,547.3 84.6,547.3 84.6,773.0 69.6,773.0"/>
<line x1="69.6" y1="660.1" x2="84.6" y2="660.1"/>
<polyline points="95.3,792.3 95.3,782.3 368.2,782.3 368.2,792.3"/>
<line x1="231.8" y1="782.3" x2="231.8" y2="792.3"/>
</g>
<text x="58.6" y="556.8" font-size="26" text-anchor="end">2000</text>
<text x="58.6" y="669.6" font-size="26" text-anchor="end">1000</text>
<text x="58.6" y="782.5" font-size="26" text-anchor="end">0</text>
<text x="98.7" y="816.3" font-size="26" text-anchor="middle">0</text>
<text x="228.6" y="816.3" font-size="26" text-anchor="middle">20</text>
<text x="371.7" y="816.3" font-size="26" text-anchor="middle">40</text>
<g fill="#d3d3d3" stroke="#2b2b2b" stroke-width="1"><rect x="816.80" y="770.68" width="13.69" height="1.32"/><rect x="830.49" y="769.56" width="13.69" height="2.44"/><rect x="844.18" y="763.96" width="13.69" height="8.04"/><rect x="857.87" y="747.34" width="13.69" height="24.66"/><rect x="871.56" y="722.12" width="13.69" height="49.88"/><rect x="885.25" y="683.65" width="13.69" height="88.35"/><rect x="898.94" y="635.46" width="13.69" height="136.54"/><rect x="912.63" y="592.31" width="13.69" height="179.69"/><rect x="926.32" y="577.18" width="13.69" height="194.82"/><rect x="940.01" y="608.56" width="13.69" height="163.44"/><rect x="953.70" y="665.53" width="13.69" height="106.47"/><rect x="967.39" y="700.08" width="13.69" height="71.92"/><rect x="981.08" y="730.34" width="13.69" height="41.66"/><rect x="994.77" y="754.25" width="13.69" height="17.75"/><rect x="1008.46" y="762.47" width="13.69" height="9.53"/><rect x="1022.15" y="768.44" width="13.69" height="3.56"/><rect x="1035.84" y="771.06" width="13.69" height="0.94"/><rect x="1049.53" y="771.62" width="13.69" height="0.38"/><rect x="1063.22" y="771.62" width="13.69" height="0.38"/></g>
<line x1="816.80" y1="772.00" x2="1073.00" y2="772.00" stroke="#2b2b2b" stroke-width="1.2"/>
<line x1="988.3" y1="541.0" x2="988.3" y2="772.0" stroke="#000" stroke-width="4" stroke-dasharray="33 12.7"/>
<g stroke="#000" stroke-width="3.3" fill="none">
<polyline points="765.7,547.9 780.7,547.9 780.7,773.1 765.7,773.1"/>
<line x1="765.7" y1="660.5" x2="780.7" y2="660.5"/>
<polyline points="792.1,792.1 792.1,782.1 1064.4,782.1 1064.4,792.1"/>
<line x1="928.2" y1="782.1" x2="928.2" y2="792.1"/>
</g>
<text x="754.7" y="557.4" font-size="26" text-anchor="end">2000</text>
<text x="754.7" y="670.0" font-size="26" text-anchor="end">1000</text>
<text x="754.7" y="782.6" font-size="26" text-anchor="end">0</text>
<text x="795.5" y="816.1" font-size="26" text-anchor="middle">0</text>
<text x="925.0" y="816.1" font-size="26" text-anchor="middle">20</text>
<text x="1067.9" y="816.1" font-size="26" text-anchor="middle">40</text>
<text x="993.0" y="710.6" font-size="33" text-anchor="start">P = 0.044</text>
<g fill="#d3d3d3" stroke="#2b2b2b" stroke-width="1"><rect x="108.90" y="1529.12" width="13.62" height="0.68"/><rect x="122.52" y="1528.80" width="13.62" height="1.00"/><rect x="136.14" y="1526.88" width="13.62" height="2.92"/><rect x="149.76" y="1521.75" width="13.62" height="8.05"/><rect x="163.38" y="1506.71" width="13.62" height="23.09"/><rect x="177.00" y="1480.77" width="13.62" height="49.03"/><rect x="190.62" y="1438.18" width="13.62" height="91.62"/><rect x="204.24" y="1381.50" width="13.62" height="148.30"/><rect x="217.86" y="1350.45" width="13.62" height="179.35"/><rect x="231.48" y="1333.47" width="13.62" height="196.33"/><rect x="245.10" y="1370.94" width="13.62" height="158.86"/><rect x="258.72" y="1415.77" width="13.62" height="114.03"/><rect x="272.34" y="1457.07" width="13.62" height="72.73"/><rect x="285.96" y="1491.66" width="13.62" height="38.14"/><rect x="299.58" y="1513.11" width="13.62" height="16.69"/><rect x="313.20" y="1521.43" width="13.62" height="8.37"/><rect x="326.82" y="1525.92" width="13.62" height="3.88"/><rect x="340.44" y="1528.48" width="13.62" height="1.32"/><rect x="354.06" y="1529.12" width="13.62" height="0.68"/></g>
<line x1="108.90" y1="1529.80" x2="367.68" y2="1529.80" stroke="#2b2b2b" stroke-width="1.2"/>
<line x1="305.8" y1="1298.6" x2="305.8" y2="1529.8" stroke="#000" stroke-width="4" stroke-dasharray="33 12.7"/>
<g stroke="#000" stroke-width="3.3" fill="none">
<polyline points="69.9,1305.6 84.9,1305.6 84.9,1530.7 69.9,1530.7"/>
<line x1="69.9" y1="1418.2" x2="84.9" y2="1418.2"/>
<polyline points="95.1,1549.4 95.1,1539.4 367.6,1539.4 367.6,1549.4"/>
<line x1="231.4" y1="1539.4" x2="231.4" y2="1549.4"/>
</g>
<text x="58.9" y="1315.1" font-size="26" text-anchor="end">2000</text>
<text x="58.9" y="1427.7" font-size="26" text-anchor="end">1000</text>
<text x="58.9" y="1540.2" font-size="26" text-anchor="end">0</text>
<text x="98.5" y="1573.4" font-size="26" text-anchor="middle">0</text>
<text x="228.2" y="1573.4" font-size="26" text-anchor="middle">20</text>
<text x="371.1" y="1573.4" font-size="26" text-anchor="middle">40</text>
<text x="315.0" y="1464.1" font-size="33" text-anchor="start">P = 0.028</text>
<g fill="#d3d3d3" stroke="#2b2b2b" stroke-width="1"><rect x="825.80" y="1531.47" width="11.39" height="0.03"/><rect x="837.19" y="1530.97" width="11.39" height="0.53"/><rect x="848.58" y="1529.31" width="11.39" height="2.19"/><rect x="859.97" y="1523.47" width="11.39" height="8.03"/><rect x="871.36" y="1508.13" width="11.39" height="23.37"/><rect x="882.75" y="1482.61" width="11.39" height="48.89"/><rect x="894.14" y="1440.08" width="11.39" height="91.42"/><rect x="905.53" y="1385.54" width="11.39" height="145.96"/><rect x="916.92" y="1347.52" width="11.39" height="183.98"/><rect x="928.31" y="1328.67" width="11.39" height="202.83"/><rect x="939.70" y="1372.03" width="11.39" height="159.47"/><rect x="951.09" y="1419.23" width="11.39" height="112.27"/><rect x="962.48" y="1460.59" width="11.39" height="70.91"/><rect x="973.87" y="1493.78" width="11.39" height="37.72"/><rect x="985.26" y="1513.13" width="11.39" height="18.37"/><rect x="996.65" y="1523.47" width="11.39" height="8.03"/><rect x="1008.04" y="1528.47" width="11.39" height="3.03"/><rect x="1019.43" y="1530.81" width="11.39" height="0.69"/><rect x="1030.82" y="1531.47" width="11.39" height="0.03"/><rect x="1042.21" y="1531.64" width="11.39" height="0.01"/></g>
<line x1="825.80" y1="1531.50" x2="1051.00" y2="1531.50" stroke="#2b2b2b" stroke-width="1.2"/>
<line x1="943.9" y1="1300.2" x2="943.9" y2="1531.5" stroke="#000" stroke-width="4" stroke-dasharray="33 12.7"/>
<g stroke="#000" stroke-width="3.3" fill="none">
<polyline points="765.2,1305.8 780.2,1305.8 780.2,1530.5 765.2,1530.5"/>
<line x1="765.2" y1="1418.2" x2="780.2" y2="1418.2"/>
<polyline points="791.7,1549.2 791.7,1539.2 1064.0,1539.2 1064.0,1549.2"/>
<line x1="927.9" y1="1539.2" x2="927.9" y2="1549.2"/>
</g>
<text x="755.7" y="1315.3" font-size="26" text-anchor="end">2000</text>
<text x="755.7" y="1427.7" font-size="26" text-anchor="end">1000</text>
<text x="755.7" y="1540.0" font-size="26" text-anchor="end">0</text>
<text x="795.1" y="1573.2" font-size="26" text-anchor="middle">0</text>
<text x="924.6" y="1573.2" font-size="26" text-anchor="middle">20</text>
<text x="1067.5" y="1573.2" font-size="26" text-anchor="middle">40</text>
<defs><linearGradient id="cb" x1="0" x2="1" y1="0" y2="0"><stop offset="0.00" stop-color="#7c1a3b"/><stop offset="0.25" stop-color="#ee9d7e"/><stop offset="0.50" stop-color="#fefcfb"/><stop offset="0.75" stop-color="#7cb4d4"/><stop offset="1.00" stop-color="#21466f"/></linearGradient></defs>
<rect x="538.5" y="1733.0" width="932.4" height="42.5" fill="url(#cb)" stroke="#bdbdbd" stroke-width="3.2"/>
<g stroke="#bdbdbd" stroke-width="2.8">
<line x1="538.5" y1="1775.5" x2="538.5" y2="1793.5"/>
<line x1="771.6" y1="1775.5" x2="771.6" y2="1793.5"/>
<line x1="1004.7" y1="1775.5" x2="1004.7" y2="1793.5"/>
<line x1="1237.8" y1="1775.5" x2="1237.8" y2="1793.5"/>
<line x1="1470.9" y1="1775.5" x2="1470.9" y2="1793.5"/>
</g>
<text x="536.5" y="1823.2" font-size="35" text-anchor="middle">-1.0</text>
<text x="768.8" y="1823.2" font-size="35" text-anchor="middle">-0.5</text>
<text x="1005.2" y="1823.2" font-size="35" text-anchor="middle">0.0</text>
<text x="1240.2" y="1823.2" font-size="35" text-anchor="middle">0.5</text>
<text x="1475.0" y="1823.2" font-size="35" text-anchor="middle">1.0</text>
<text x="1000.3" y="1712.0" font-size="36.4" text-anchor="middle">Spearman’s correlation coefficient</text>
</svg>
</body></html>
